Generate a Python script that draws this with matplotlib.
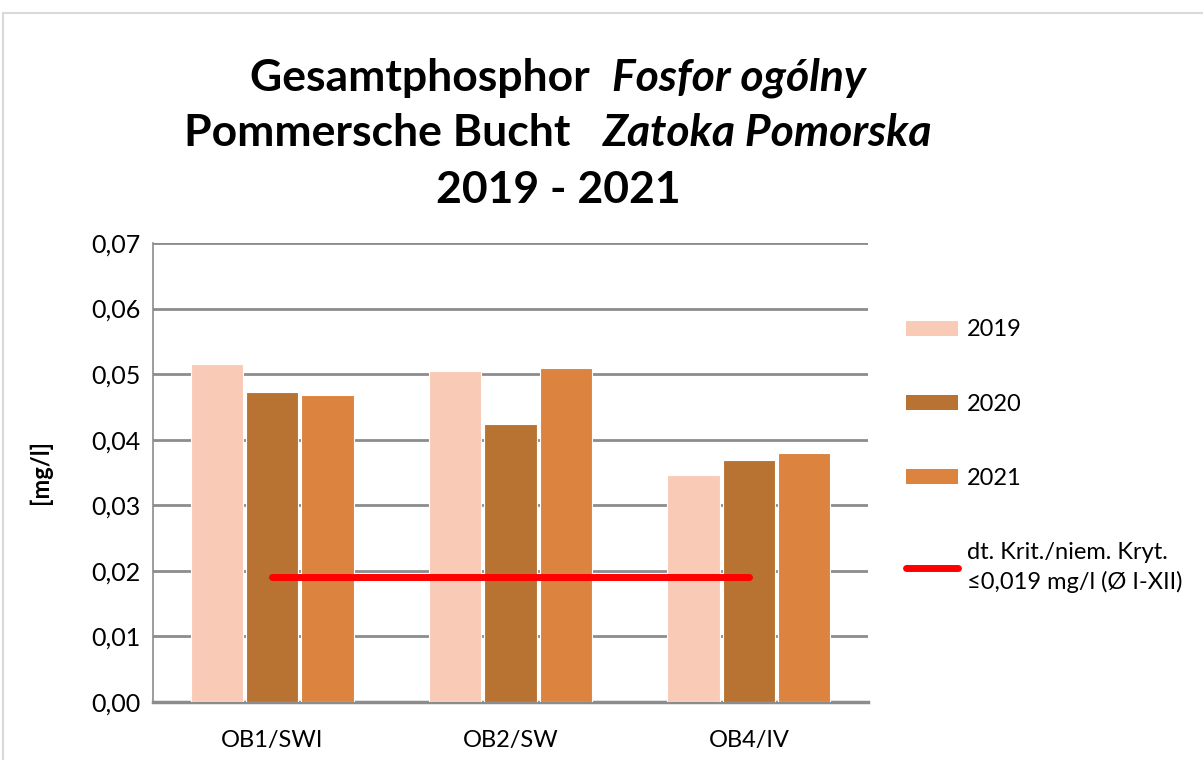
import matplotlib.pyplot as plt
from matplotlib.patches import Patch, Rectangle
from matplotlib.lines import Line2D
import numpy as np

plt.rcParams['font.family'] = ['Lato', 'DejaVu Sans']

# data
stations = ['OB1/SWI', 'OB2/SW', 'OB4/IV']
years = ['2019', '2020', '2021']
values = {
    '2019': [0.0515, 0.0505, 0.0346],
    '2020': [0.0473, 0.0424, 0.0369],
    '2021': [0.0468, 0.0509, 0.0380],
}
colors = ['#f9cbb7', '#b87333', '#dc843f']
crit_value = 0.019
crit_label = 'dt. Krit./niem. Kryt.\n≤0,019 mg/l (Ø I-XII)'

W, H = 1203, 760
fig = plt.figure(figsize=(W / 100, H / 100), dpi=100)
fig.patches.append(Rectangle((3 / W, -0.1), 1.2, (H - 13) / H + 0.1, transform=fig.transFigure,
                             fill=False, edgecolor='#d9d9d9', linewidth=1.5))

ax = fig.add_axes([153 / W, 1 - 702 / H, (868 - 153) / W, (702 - 243) / H])
x = np.arange(len(stations))
bw = 0.22
for i, y in enumerate(years):
    ax.bar(x + (i - 1) * (bw + 0.012), values[y], width=bw, color=colors[i],
           edgecolor='white', linewidth=0.8, zorder=3)
ax.plot([x[0], x[-1]], [crit_value, crit_value], color='#ff0000', linewidth=5,
        solid_capstyle='round', zorder=4)

ax.set_xlim(-0.5, len(stations) - 0.5)
ax.set_ylim(0, 0.07)
ticks = np.arange(0, 0.071, 0.01)
ax.set_yticks(ticks)
ax.set_yticklabels([f'{v:.2f}'.replace('.', ',') for v in ticks], fontsize=18)
ax.set_xticks(x)
ax.set_xticklabels(stations, fontsize=17)
ax.tick_params(length=0, pad=9)
ax.tick_params(axis='x', pad=20)
ax.grid(axis='y', color='#8c8c8c', linewidth=2, zorder=0)
for s in ['top', 'right']:
    ax.spines[s].set_visible(False)
ax.spines['left'].set_color('#8c8c8c')
ax.spines['left'].set_linewidth(1.2)
ax.spines['bottom'].set_color('#8c8c8c')
ax.spines['bottom'].set_linewidth(2.5)
ax.set_ylabel('[mg/l]', fontsize=17, fontweight='bold', labelpad=28)

handles = [Patch(facecolor=c, edgecolor='none') for c in colors]
handles.append(Line2D([0], [0], color='#ff0000', linewidth=5, solid_capstyle='round'))
leg = fig.legend(handles, years + [crit_label], loc='upper left', bbox_to_anchor=(897 / W, 1 - 310 / H),
                 frameon=False, fontsize=17, handlelength=2.2, handleheight=0.6, labelspacing=2.25,
                 handletextpad=0.35, borderaxespad=0)
leg.get_texts()[-1].set_linespacing(1.45)

# title, built from pieces (bold / bold italic)
fig.canvas.draw()
rend = fig.canvas.get_renderer()
cx = 558


def title_line(pieces, ypx):
    txts = []
    for s, st in pieces:
        t = fig.text(0, 1 - ypx / H, s, fontsize=32, fontweight='bold', fontstyle=st,
                     va='center', ha='left')
        txts.append(t)
    widths = [t.get_window_extent(rend).width for t in txts]
    xpos = cx - sum(widths) / 2
    for t, w in zip(txts, widths):
        t.set_x(xpos / W)
        xpos += w


title_line([('Gesamtphosphor  ', 'normal'), ('Fosfor ogólny', 'italic')], 78)
title_line([('Pommersche Bucht   ', 'normal'), ('Zatoka Pomorska', 'italic')], 133)
title_line([('2019 - 2021', 'normal')], 190)

fig.savefig('out.png', dpi=100)
